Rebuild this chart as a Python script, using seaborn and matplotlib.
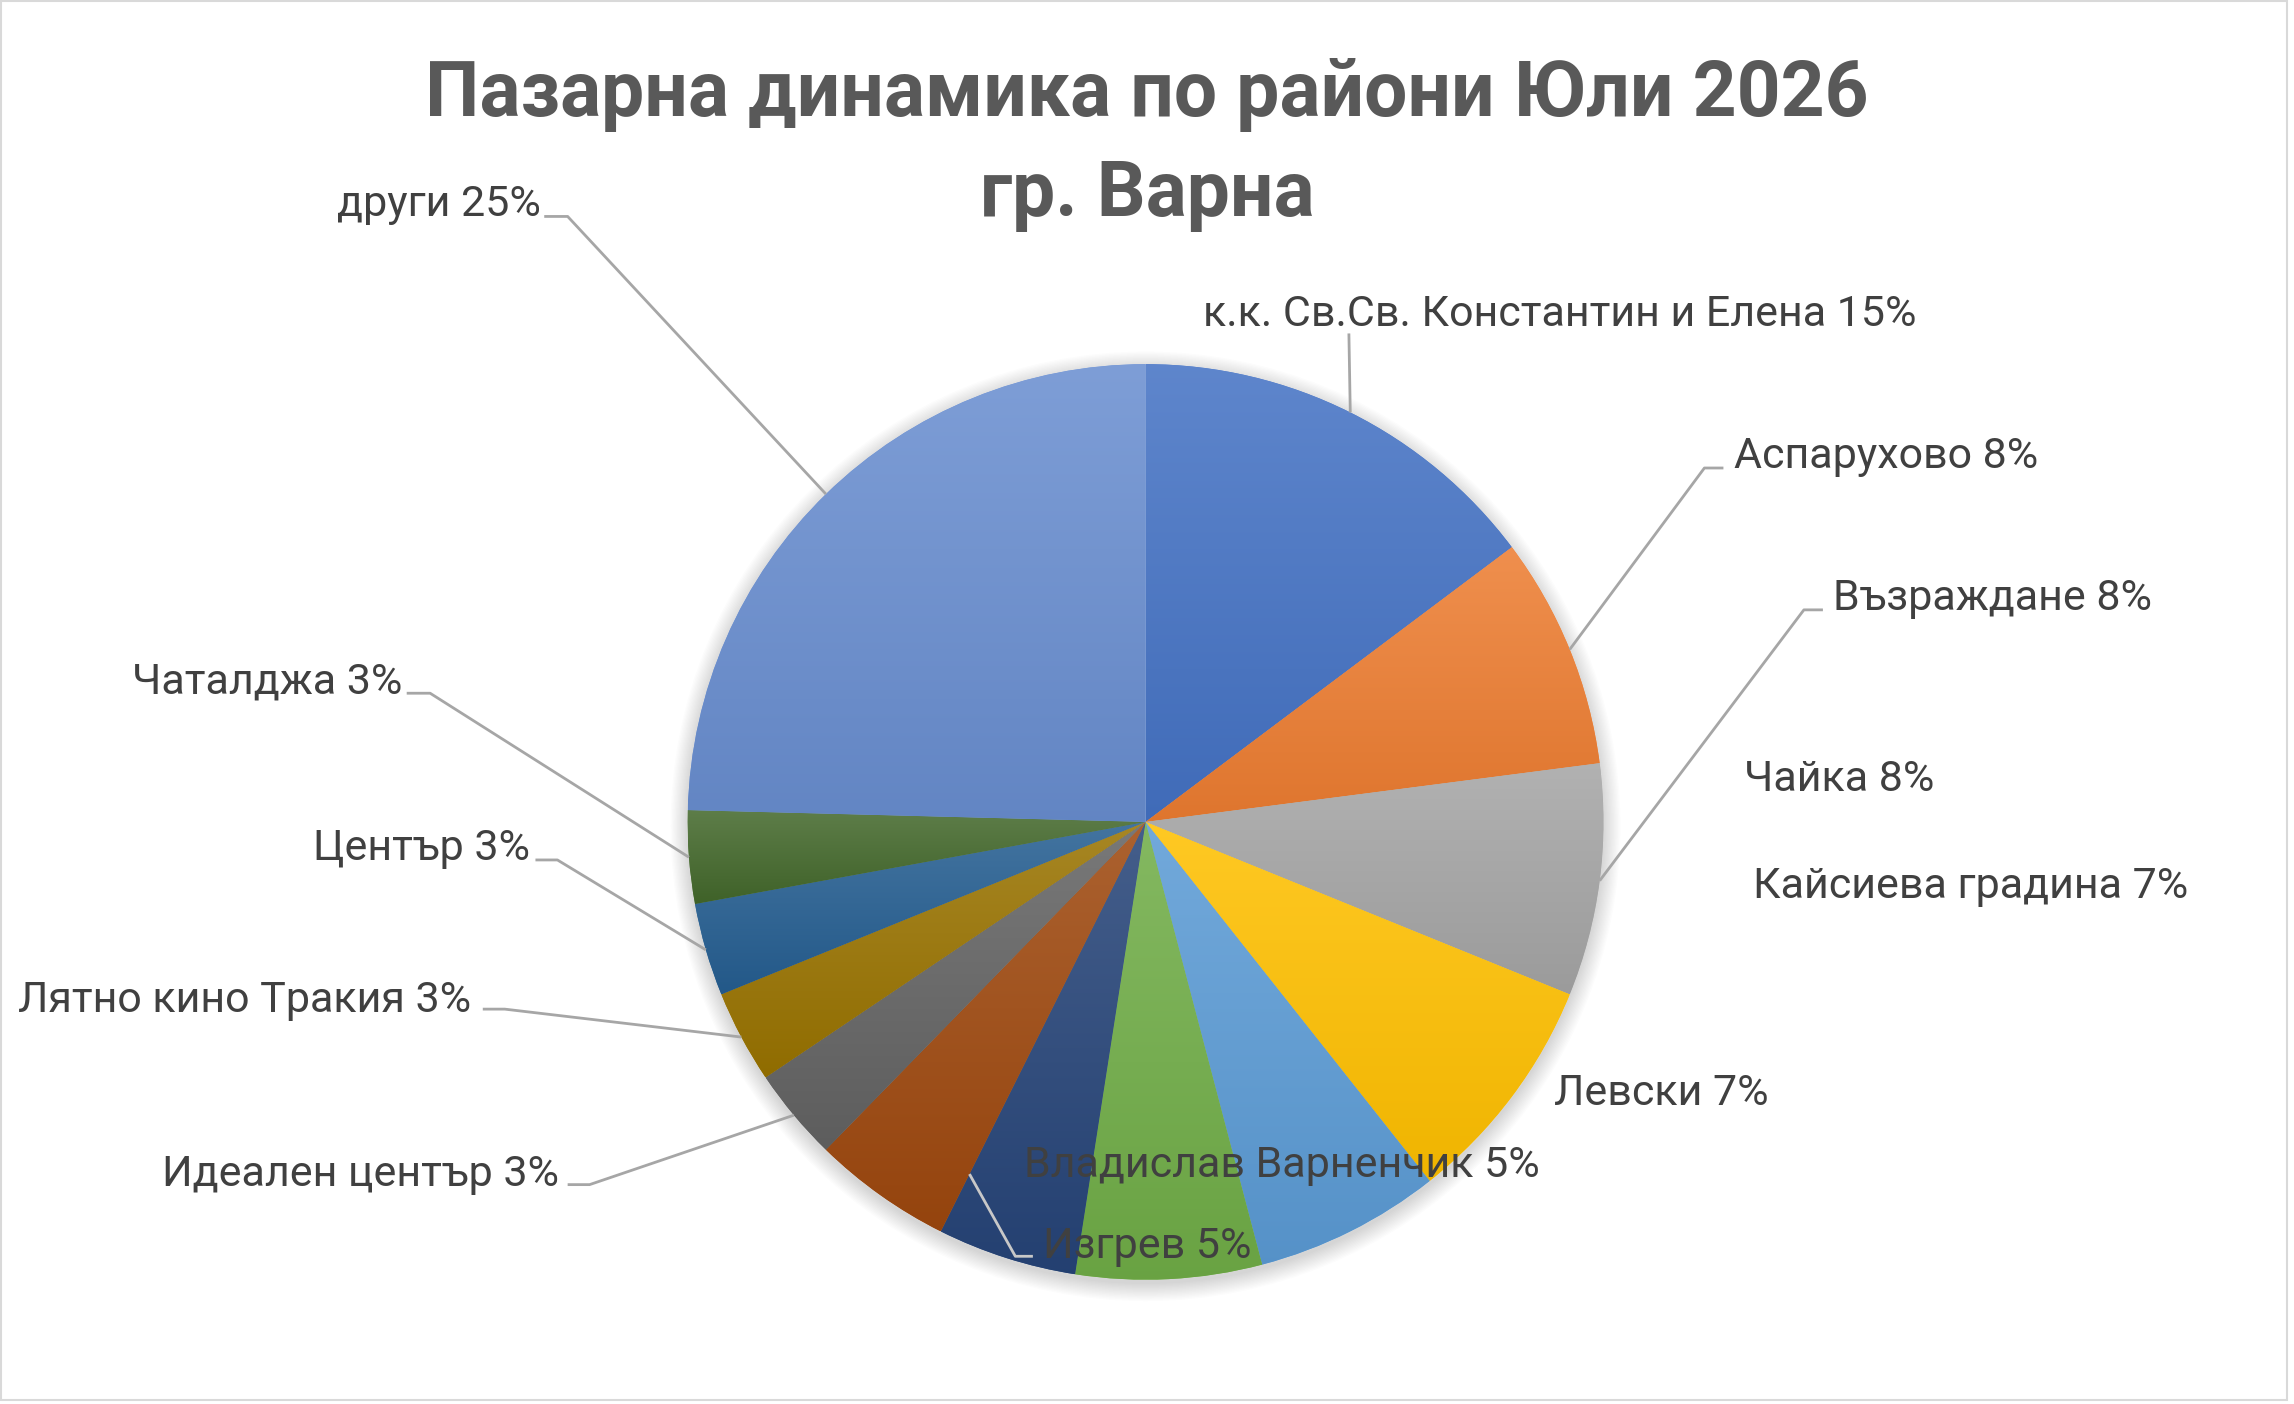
import numpy as np
import matplotlib
matplotlib.use("Agg")
import matplotlib.pyplot as plt
import seaborn as sns
from matplotlib.patches import Circle, Rectangle
from matplotlib.colors import to_rgb

# ---------------- data ----------------
districts = ["к.к. Св.Св. Константин и Елена", "Аспарухово", "Възраждане", "Чайка",
             "Кайсиева градина", "Левски", "Владислав Варненчик", "Изгрев",
             "Идеален център", "Лятно кино Тракия", "Център", "Чаталджа", "други"]
counts = [9, 5, 5, 5, 4, 4, 3, 3, 2, 2, 2, 2, 15]
colors = ["#4472C4", "#ED7D31", "#A5A5A5", "#FFC000", "#5B9BD5", "#70AD47",
          "#264478", "#9E480E", "#636363", "#997300", "#255E91", "#43682B", "#698ED0"]
title_lines = ["Пазарна динамика по райони Юли 2026", "гр. Варна"]

# ---------------- layout (reference pixel space 1568 x 960) ----------------
W, H = 1568, 960
CX, CY, R = 783, 562, 313
# label: (x, y_center, ha, leader stub points (display px) or None)
label_layout = [
    (822, 215, "left", [(922, 228)]),
    (1185, 312, "left", [(1178, 320), (1165, 320)]),
    (1253, 409, "left", [(1246, 417), (1233, 417)]),
    (1192, 533, "left", None),
    (1198, 606, "left", None),
    (1062, 748, "left", None),
    (700, 797, "left", None),
    (713, 852, "left", [(706, 859), (694, 859)]),
    (382, 803, "right", [(388, 810), (403, 810)]),
    (322, 684, "right", [(330, 690), (345, 690)]),
    (362, 580, "right", [(366, 588), (381, 588)]),
    (275, 466, "right", [(278, 474), (294, 474)]),
    (370, 140, "right", [(372, 148), (388, 148)]),
]

sns.set_theme(style="white")
FONT = ["Roboto", "DejaVu Sans"]
plt.rcParams["font.family"] = FONT

fig = plt.figure(figsize=(22.94, 14.04), dpi=100)
fig.patch.set_facecolor("white")
ax = fig.add_axes([0, 0, 1, 1])


def Y(y):
    return H - y


wedges, _ = ax.pie(counts, colors=colors, startangle=90, counterclock=False,
                   center=(CX, Y(CY)), radius=R, wedgeprops=dict(linewidth=0, zorder=3))

# soft shadow behind pie
for i in range(14):
    ax.add_patch(Circle((CX, Y(CY) - 3), R + 0.9 * i, facecolor="black",
                        alpha=0.013, linewidth=0, zorder=1))
ax.add_patch(Circle((CX, Y(CY)), R, facecolor="white", linewidth=0, zorder=2))

# vertical gradient per slice
g = np.linspace(0, 1, 256)[:, None, None]
for w, c in zip(wedges, colors):
    base = np.array(to_rgb(c))
    top = base + (1 - base) * 0.14
    bot = base * 0.94
    img = top * (1 - g) + bot * g
    bb = w.get_path().get_extents()
    im = ax.imshow(img, extent=(bb.x0, bb.x1, bb.y0, bb.y1), origin="upper",
                   aspect="auto", interpolation="bilinear", zorder=4)
    im.set_clip_path(w)

# fit fonts to reference widths
fig.canvas.draw()
renderer = fig.canvas.get_renderer()
SX = 2294 / W


def fit_size(text, target_px, **kw):
    t = ax.text(0, 0, text, fontsize=30, **kw)
    wpx = t.get_window_extent(renderer).width
    t.remove()
    return 30 * target_px * SX / wpx


total = sum(counts)
label_texts = [f"{d} {round(100 * c / total)}%" for d, c in zip(districts, counts)]
lab_size = fit_size(label_texts[9], 310)
title_size = fit_size(title_lines[0], 985, fontweight="bold")

TXT = "#404040"
LINE = "#A6A6A6"
for i, (w, txt, (lx, ly, ha, stub)) in enumerate(zip(wedges, label_texts, label_layout)):
    ax.text(lx, Y(ly), txt, ha=ha, va="center", fontsize=lab_size, color=TXT, zorder=10)
    if stub is None:
        continue
    tm = np.deg2rad(0.5 * (w.theta1 + w.theta2))
    rr = w.r
    if districts[i] == "Изгрев":
        tm = np.deg2rad(w.theta2)
        rr = w.r * 0.86
    ax_ = CX + rr * np.cos(tm)
    ay_ = Y(CY) + rr * np.sin(tm)
    xs = [p[0] for p in stub] + [ax_]
    ys = [Y(p[1]) for p in stub] + [ay_]
    lc = "#C8C8C8" if districts[i] == "Изгрев" else LINE
    ax.plot(xs, ys, color=lc, linewidth=2.0, zorder=9, solid_capstyle="butt")

ax.text(784, Y(65), title_lines[0], ha="center", va="center", fontsize=title_size,
        fontweight="bold", color="#595959", zorder=10)
ax.text(784, Y(133), title_lines[1], ha="center", va="center", fontsize=title_size,
        fontweight="bold", color="#595959", zorder=10)

ax.add_patch(Rectangle((1, Y(957)), 1562, 956, fill=False, edgecolor="#D9D9D9",
                       linewidth=1.5, zorder=11))

ax.set_xlim(0, W)
ax.set_ylim(0, H)
ax.set_aspect("auto")
ax.axis("off")

fig.savefig("out.png", dpi=100, facecolor="white")
